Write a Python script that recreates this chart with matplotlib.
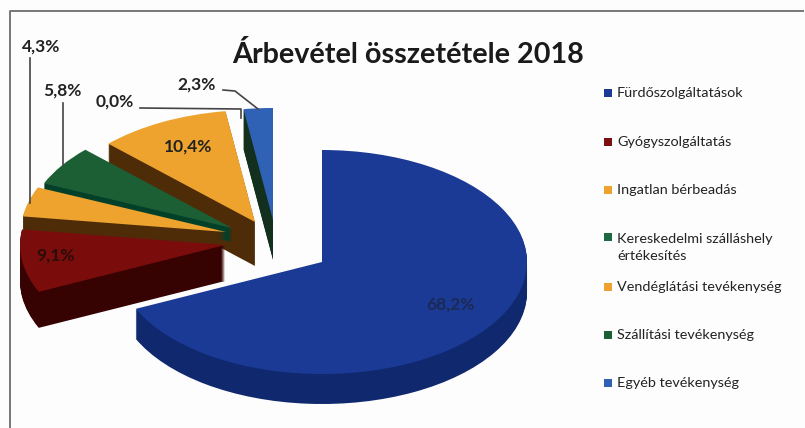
import matplotlib
matplotlib.use('Agg')
import matplotlib.pyplot as plt
import numpy as np

plt.rcParams['font.family'] = ['Lato', 'DejaVu Sans']

title = 'Árbevétel összetétele 2018'
categories = ['Fürdőszolgáltatások', 'Gyógyszolgáltatás', 'Ingatlan bérbeadás',
              'Kereskedelmi szálláshely\nértékesítés', 'Vendéglátási tevékenység',
              'Szállítási tevékenység', 'Egyéb tevékenység']
values = [68.2, 9.1, 4.3, 5.8, 10.4, 0.0, 2.3]
value_labels = ['68,2%', '9,1%', '4,3%', '5,8%', '10,4%', '0,0%', '2,3%']

top_colors = ['#1a3a96', '#7a0c0c', '#eea32e', '#1d5f35', '#eea32e', '#1d5f35', '#2f62b4']
side_colors = ['#10286e', '#360202', '#4e2c08', '#03402a', '#4e2c08', '#03402a', '#13301f']
legend_colors = ['#1a3a96', '#7a1010', '#eea32e', '#1d6a40', '#eea32e', '#1d5f35', '#2f62b4']

# pixel layout of the pie
W, H = 805, 428
cx, cy, rx, ry = 322, 262, 205, 112
# where each slice's tip sits (px shift from pie centre) and how thick it looks
shifts = [(0, 0), (-97, -17), (-96, -30), (-90, -34), (-67, -40), (0, 0), (-49, -42)]
depths = [30, 36, 14, 14, 44, 0, 40]
label_pos = [(450, 305), (55, 256), (41, 47), (62, 91), (188, 147), (115, 102), (197, 85)]
legend_y = [93, 142, 190, 247, 287, 335, 383]
leaders = [None, None,
           [(30, 58), (30, 203)],
           [(63, 103), (63, 165)],
           None,
           [(140, 108), (241, 109), (241, 118)],
           [(223, 90), (235, 91), (258, 109)]]

fig = plt.figure(figsize=(8.05, 4.28), dpi=100, facecolor='#fdfdfd')
ax = fig.add_axes([0, 0, 1, 1])

total = sum(values)
starts = np.cumsum([0] + values[:-1]) / total * 360


def draw_slice(i):
    if values[i] == 0:
        return
    dx, dy = shifts[i]
    c0 = dx / rx
    c1 = -dy / ry
    start = 90 - starts[i]
    for k in range(depths[i], -1, -1):
        col = top_colors[i] if k == 0 else side_colors[i]
        ax.pie([values[i], total - values[i]], colors=[col, 'none'], startangle=start,
               counterclock=False, center=(c0, c1 - k / ry), radius=1, frame=True,
               normalize=True, wedgeprops={'linewidth': 0})


# back to front
for i in [6, 4, 3, 2, 1, 0]:
    draw_slice(i)

ax.set_aspect('auto')
ax.set_xlim(-cx / rx, (W - cx) / rx)
ax.set_ylim((cy - H) / ry, cy / ry)
ax.axis('off')

# overlay in pixels for the texts, lines and frame
ov = fig.add_axes([0, 0, 1, 1])
ov.set_xlim(0, W)
ov.set_ylim(H, 0)
ov.axis('off')
ov.patch.set_alpha(0)

ov.plot([10, 10, 803], [428, 11, 11], color='#777777', lw=1.4)
ov.text(408, 54, title, ha='center', va='center', fontsize=20.7, fontweight='bold', color='#1a1a1a')

for i, lab in enumerate(value_labels):
    col = '#1b2a55' if i == 0 else '#2a0d08' if i == 1 else '#222222'
    ov.text(label_pos[i][0], label_pos[i][1], lab, ha='center', va='center',
            fontsize=12.5, fontweight='bold', color=col)
    if leaders[i]:
        xs, ys = zip(*leaders[i])
        ov.plot(xs, ys, color='#444444', lw=1.2)

for name, y, col in zip(categories, legend_y, legend_colors):
    first_y = y - 10 if '\n' in name else y
    ov.scatter([608], [first_y], marker='s', s=28, color=col, linewidths=0)
    ov.text(617, y, name, ha='left', va='center', fontsize=10.4, color='#222222', linespacing=1.5)

fig.savefig('out.png', dpi=100, facecolor=fig.get_facecolor())
